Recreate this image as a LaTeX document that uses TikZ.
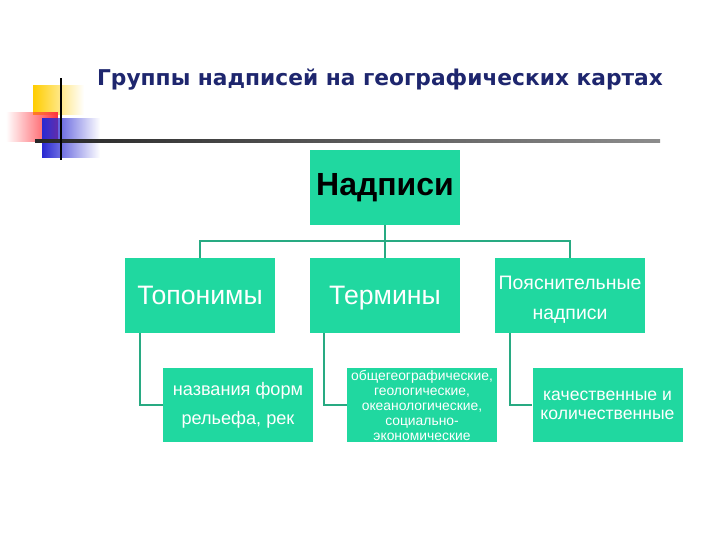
\documentclass[tikz,border=0pt]{standalone}
\usepackage{fontspec}
\setmainfont{Liberation Sans}
\newfontfamily\titlefont{DejaVu Sans}
\usetikzlibrary{fadings,calc}
\definecolor{boxc}{RGB}{32,216,160}
\definecolor{linec}{RGB}{40,170,130}
\definecolor{titlec}{RGB}{30,38,110}
\definecolor{decoY}{RGB}{255,205,0}
\definecolor{decoR}{RGB}{255,50,60}
\definecolor{decoB}{RGB}{40,40,210}
\tikzfading[name=fadeR, left color=transparent!0, middle color=transparent!0, right color=transparent!100]
\tikzfading[name=fadeL, left color=transparent!100, middle color=transparent!0, right color=transparent!0]
\begin{document}
\begin{tikzpicture}[x=0.75pt,y=-0.75pt,
  box/.style={fill=boxc, minimum width=112.5pt, minimum height=56.25pt, inner sep=0pt, align=center, text=white},
  conn/.style={draw=linec, line width=1.5pt}]
\useasboundingbox (0,0) rectangle (720,540);
% decoration
\fill[decoY, path fading=fadeR] (33,85) rectangle (84,115);
\fill[decoR, path fading=fadeL] (6,112) rectangle (58,142);
\fill[decoB, path fading=fadeR] (42,118) rectangle (100,158);
\shade[left color=black!85, right color=black!45] (35,139.5) rectangle (660,142.5);
\draw[black, line width=1.5pt] (61,78) -- (61,160);
% title
\node[anchor=base, text=titlec, inner sep=0pt, font=\titlefont\bfseries\fontsize{16.3}{20}\selectfont] (title) at (380,85) {Группы надписей на географических картах};
% boxes
\node[box, text=black, font=\fontsize{24}{28}\selectfont\bfseries] (top) at (385,187.5) {Надписи};
\node[box, font=\fontsize{20}{24}\selectfont] (t1) at (200,295.5) {Топонимы};
\node[box, text depth=0pt, font=\fontsize{20}{24}\selectfont] (t2) at (385,295.5) {Термины};
\node[box, font=\fontsize{14.6}{22}\selectfont] (t3) at (570,295.5) {\rule{0pt}{16.5pt}Пояснительные\\надписи};
\node[box, minimum height=55.5pt, font=\fontsize{13.6}{21.75}\selectfont] (s1) at (238,405) {названия форм\\рельефа, рек};
\node[box, minimum height=55.5pt, font=\fontsize{10.4}{11.25}\selectfont] (s2) at (422,405) {общегеографические,\\геологические,\\океанологические,\\социально-\\экономические};
\node[box, minimum height=55.5pt, font=\fontsize{13.2}{14.25}\selectfont] (s3) at (607.5,405) {качественные и\\количественные};
% connectors
\coordinate (bus) at (385,241);
\draw[conn] (top.south) -- (bus);
\draw[conn] (t1.north) -- (t1.north |- bus) -- (t3.north |- bus) -- (t3.north);
\draw[conn] (bus) -- (t2.north);
\draw[conn] ($(t1.south west)+(15,0)$) |- (s1.west);
\draw[conn] ($(t2.south west)+(14,0)$) |- (s2.west);
\draw[conn] ($(t3.south west)+(15,0)$) |- (s3.west);
\end{tikzpicture}
\end{document}
